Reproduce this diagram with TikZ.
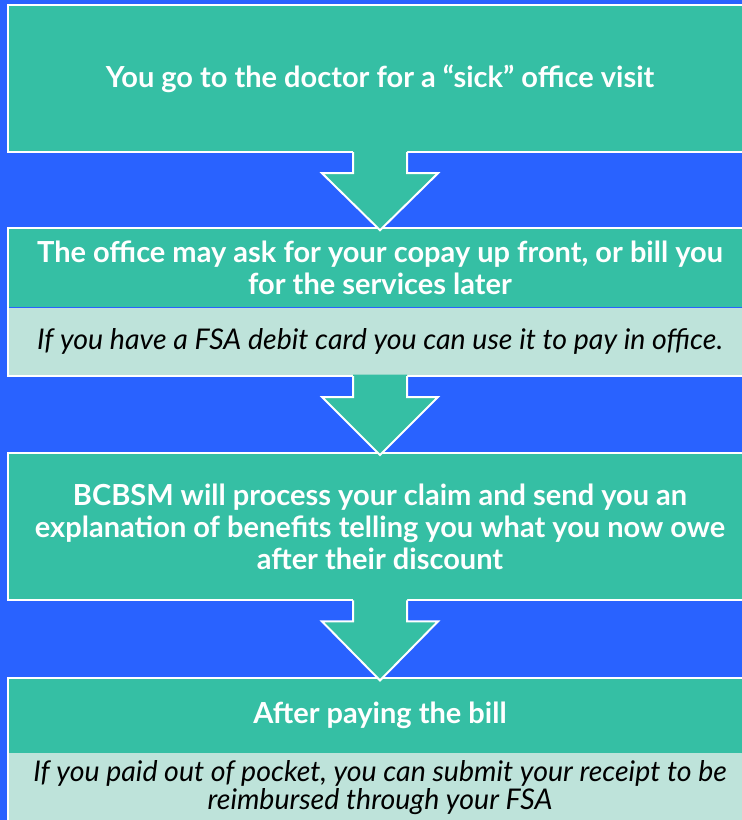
\documentclass[tikz,border=0pt]{standalone}
\usepackage{fontspec}
\setmainfont{Lato}
\usepackage{tikz}
\usetikzlibrary{positioning,calc}
\definecolor{myblue}{RGB}{41,98,255}
\definecolor{myteal}{RGB}{53,191,164}
\definecolor{mymint}{RGB}{190,227,218}
\tikzset{
		stepStyle/.style = 	{fill=myteal, text=white, font=\fontsize{29}{32}\selectfont\bfseries,
		                     align=center, minimum width=744pt, inner sep=0pt},
		noteStyle/.style = 	{fill=mymint, text=black, font=\fontsize{28.5}{28}\selectfont\itshape,
		                     align=center, minimum width=744pt, inner sep=0pt},
		frameStyle/.style = {draw=white, line width=2pt},
		arrowStyle/.style = {draw=white, line width=2pt, line join=miter},
		node distance=76pt
}

% block arrow from the bottom of #1 to the top of #2
\newcommand\stepArrow[2]{
  \fill[myteal] ($(#1.south)+(-27pt,1.5pt)$) -- ($(#1.south)+(-27pt,-21pt)$)
    -- ($(#1.south)+(-58pt,-21pt)$) -- ($(#2.north)+(0,-2pt)$)
    -- ($(#1.south)+(58pt,-21pt)$) -- ($(#1.south)+(27pt,-21pt)$)
    -- ($(#1.south)+(27pt,1.5pt)$) -- cycle;
  \draw[arrowStyle] ($(#1.south)+(-27pt,0)$) -- ($(#1.south)+(-27pt,-21pt)$)
    -- ($(#1.south)+(-58pt,-21pt)$) -- ($(#2.north)+(0,-2pt)$)
    -- ($(#1.south)+(58pt,-21pt)$) -- ($(#1.south)+(27pt,-21pt)$)
    -- ($(#1.south)+(27pt,0)$);
}

\begin{document}
\begin{tikzpicture}
  \useasboundingbox (0,0) rectangle (742pt,-820pt);
  \clip (0,0) rectangle (742pt,-820pt);
  \fill[myblue] (0,0) rectangle (742pt,-820pt);

  % Draw the steps
  \node [stepStyle, minimum height=147pt] (visit) at (380pt,-78.5pt)
    {You go to the doctor for a “sick” office visit};
  \node [stepStyle, minimum height=79pt, below=of visit] (office)
    {The office may ask for your copay up front, or bill you\\for the services later};
  \node [noteStyle, minimum height=68pt, below=0pt of office] (officeNote)
    {If you have a FSA debit card you can use it to pay in office.};
  \node [stepStyle, minimum height=147pt, below=77pt of officeNote] (claim)
    {BCBSM will process your claim and send you an\\explanation of benefits telling you what you now owe\\after their discount};
  \node [stepStyle, minimum height=74pt, below=78pt of claim] (bill)
    {After paying the bill};
  \node [noteStyle, minimum height=70pt, below=0pt of bill] (billNote)
    {If you paid out of pocket, you can submit your receipt to be\\reimbursed through your FSA};

  % White frames round each step
  \draw[frameStyle] (visit.north west) rectangle (visit.south east);
  \draw[frameStyle] (office.north west) rectangle (officeNote.south east);
  \draw[frameStyle] (claim.north west) rectangle (claim.south east);
  \draw[frameStyle] (bill.north west) rectangle (billNote.south east);

  % Draw arrows between steps
  \stepArrow{visit}{office}
  \stepArrow{officeNote}{claim}
  \stepArrow{claim}{bill}
\end{tikzpicture}
\end{document}
